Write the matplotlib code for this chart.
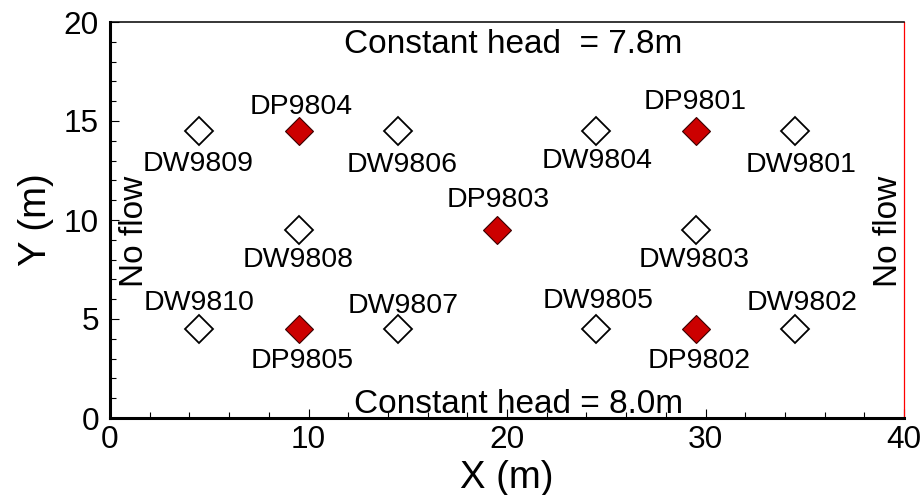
import matplotlib
matplotlib.use("Agg")
import matplotlib.pyplot as plt
from matplotlib.ticker import MultipleLocator

plt.rcParams['font.family'] = ['Liberation Sans', 'DejaVu Sans']

# Well layout (m)
well_names = ["DW9809", "DP9804", "DW9806", "DW9804", "DP9801", "DW9801",
              "DW9808", "DP9803", "DW9803",
              "DW9810", "DP9805", "DW9807", "DW9805", "DP9802", "DW9802"]
well_x = [4.5, 9.5, 14.5, 24.5, 29.5, 34.5,
          9.5, 19.5, 29.5,
          4.5, 9.5, 14.5, 24.5, 29.5, 34.5]
well_y = [14.5, 14.5, 14.5, 14.5, 14.5, 14.5,
          9.5, 9.5, 9.5,
          4.5, 4.5, 4.5, 4.5, 4.5, 4.5]

# label offsets from each well (points; +y is upward)
label_dx = [-0.7, 2.2, 2.9, 0.7, 0.0, 4.3,
            0.0, 0.7, -0.7,
            0.0, 2.9, 3.6, 1.4, 2.2, 5.0]
label_dy = [-28.8, 12.2, -29.5, -26.6, 15.8, -29.5,
            -26.6, 16.6, -26.6,
            13.7, -28.1, 11.5, 15.1, -28.1, 13.7]

boundary_top = "Constant head  = 7.8m"
boundary_bottom = "Constant head = 8.0m"
boundary_side = "No flow"

fig = plt.figure(figsize=(9.24, 4.95), dpi=100)
ax = fig.add_axes([110 / 924, 77 / 495, 794 / 924, 396 / 495])
ax.set_xlim(0, 40)
ax.set_ylim(0, 20)

for name, x, y, dx, dy in zip(well_names, well_x, well_y, label_dx, label_dy):
    if name.startswith("DP"):
        ax.plot(x, y, marker="D", ms=14.3, mfc="#cc0000", mec="#3a0000",
                mew=0.8, ls="none", zorder=3)
    else:
        ax.plot(x, y, marker="D", ms=14.3, mfc="white", mec="black",
                mew=1.3, ls="none", zorder=3)
    ax.annotate(name, (x, y), xytext=(dx, dy), textcoords="offset points",
                ha="center", va="baseline", fontsize=20.5, color="black")

ax.text(20.33, 18.43, boundary_top, ha="center", va="baseline", fontsize=24)
ax.text(20.57, 0.25, boundary_bottom, ha="center", va="baseline", fontsize=24)
ax.text(1.68, 9.44, boundary_side, rotation=90, rotation_mode="anchor",
        ha="center", va="baseline", fontsize=24)
ax.text(39.63, 9.44, boundary_side, rotation=90, rotation_mode="anchor",
        ha="center", va="baseline", fontsize=24)

ax.xaxis.set_major_locator(MultipleLocator(10))
ax.xaxis.set_minor_locator(MultipleLocator(2))
ax.yaxis.set_major_locator(MultipleLocator(5))
ax.yaxis.set_minor_locator(MultipleLocator(1))
ax.tick_params(which="both", direction="in", top=False, right=False,
               width=0.8, color="black", labelsize=22.7)
ax.tick_params(which="major", length=6.5)
ax.tick_params(which="minor", length=4)
ax.tick_params(axis="x", pad=5)
ax.tick_params(axis="y", pad=8)

ax.spines["left"].set_linewidth(2.2)
ax.spines["bottom"].set_linewidth(2.2)
ax.spines["top"].set_linewidth(1.1)
ax.spines["right"].set_linewidth(0.9)
ax.spines["right"].set_color("red")

ax.set_xlabel("X (m)", fontsize=27.5, labelpad=4)
ax.set_ylabel("Y (m)", fontsize=27.5, labelpad=7)

fig.savefig("out.png", dpi=100)
